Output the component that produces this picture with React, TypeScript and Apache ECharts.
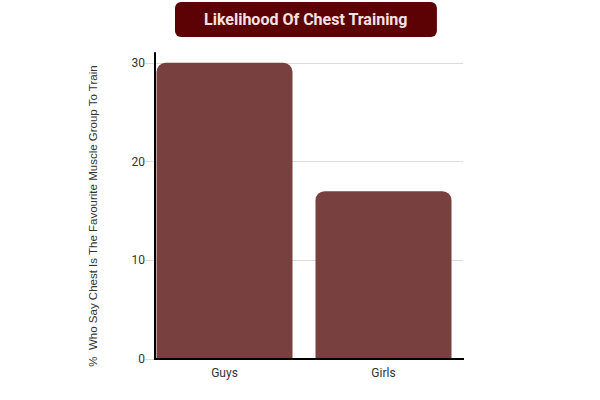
import * as echarts from "echarts";
import React, { useEffect, useRef } from "react";

const categories = ["Guys", "Girls"];
const values = [30, 17];
const yTicks = [0, 10, 20, 30];
const yAxisTitle = "%  Who Say Chest Is The Favourite Muscle Group To Train";

const App: React.FC = () => {
  const chartRef = useRef<HTMLDivElement | null>(null);

  useEffect(() => {
    if (!chartRef.current) return;
    document.body.style.margin = "0";
    const chart = echarts.init(chartRef.current, undefined, { renderer: "svg" });

    const option: echarts.EChartsOption = {
      animation: false,
      textStyle: { fontFamily: "Roboto" },
      title: {
        text: "Likelihood Of Chest Training",
        left: 175,
        top: 2,
        backgroundColor: "#5c0204",
        borderRadius: 6,
        padding: [8, 29, 8, 29],
        textStyle: {
          color: "#f7e1e1",
          fontSize: 16,
          lineHeight: 19,
          fontWeight: "bold",
          fontFamily: "Roboto",
        },
      },
      grid: { left: 145, right: 137, top: 53, bottom: 41 },
      graphic: [
        {
          type: "text",
          x: 93,
          y: 216,
          rotation: Math.PI / 2,
          style: {
            text: yAxisTitle,
            fill: "#333",
            fontSize: 11.5,
            fontFamily: "Liberation Sans",
            align: "center",
            verticalAlign: "middle",
          },
        },
        {
          type: "line",
          shape: { x1: 154, y1: 359, x2: 464, y2: 359 },
          style: { stroke: "#000", lineWidth: 2 },
          z: 10,
        },
      ],
      xAxis: {
        type: "category",
        data: categories,
        axisLine: { show: false },
        axisTick: { show: false },
        axisLabel: { color: "#333", fontSize: 12, margin: 8 },
      },
      yAxis: {
        type: "value",
        min: 0,
        max: 31,
        interval: 10,
        offset: -10,
        axisLine: { show: true, lineStyle: { color: "#000", width: 2 } },
        axisTick: { show: false },
        axisLabel: {
          color: "#333",
          fontSize: 12,
          margin: 10,
          showMaxLabel: false,
          formatter: (v: number) => (yTicks.includes(v) ? String(v) : ""),
        },
        splitLine: { show: true, showMaxLine: false, lineStyle: { color: "#dcdcdc" } },
      },
      series: [
        {
          type: "bar",
          data: values,
          barWidth: 136,
          itemStyle: { color: "#78403f", borderRadius: [9, 9, 0, 0] },
        },
      ],
    };

    chart.setOption(option);
    return () => chart.dispose();
  }, []);

  return <div ref={chartRef} style={{ width: 600, height: 400 }} />;
};

export default App;
